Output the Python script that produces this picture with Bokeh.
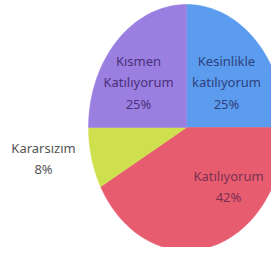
import numpy as np
from bokeh.plotting import figure
from bokeh.models import Range1d, ColumnDataSource
from bokeh.core.properties import value
from bokeh.embed import file_html
from bokeh.resources import INLINE

categories = ["Kesinlikle\nkatılıyorum", "Katılıyorum", "Kararsızım", "Kısmen\nKatılıyorum"]
values = [25, 42, 8, 25]
colors = ["#5b9cee", "#e85c70", "#cfe04e", "#9b7fe0"]
text_colors = ["#2f3f80", "#7a3050", "#555555", "#4a2f7a"]

# layout (screen-like coordinates)
cx, cy, rx, ry = 186, 127, 98, 123
label_pos = [(226, 82), (228, 186), (43, 158), (138, 82)]

p = figure(width=271, height=247, output_backend="svg", toolbar_location=None,
           x_range=Range1d(0, 271), y_range=Range1d(247, 0), min_border=0)
p.axis.visible = False
p.grid.visible = False
p.outline_line_color = None

fr = np.array(values, dtype=float) / sum(values)
ends = np.cumsum(fr) * 2 * np.pi
starts = ends - fr * 2 * np.pi
xs, ys = [], []
for s, e in zip(starts, ends):
    t = np.linspace(s, e, 80)
    xs.append(np.concatenate([[cx], cx + rx * np.sin(t)]))
    ys.append(np.concatenate([[cy], cy - ry * np.cos(t)]))
p.patches(xs, ys, fill_color=colors, line_color=colors, line_width=0.5)

labels = [f"{c}\n{v}%" for c, v in zip(categories, values)]
src = ColumnDataSource(dict(x=[lp[0] for lp in label_pos], y=[lp[1] for lp in label_pos],
                            t=labels, c=text_colors))
p.text("x", "y", text="t", source=src, text_color="c", text_align="center",
       text_baseline="middle", text_font_size="13px", text_font=value("Noto Sans"),
       text_line_height=1.2)

open("out.html", "w").write(file_html(p, INLINE))
